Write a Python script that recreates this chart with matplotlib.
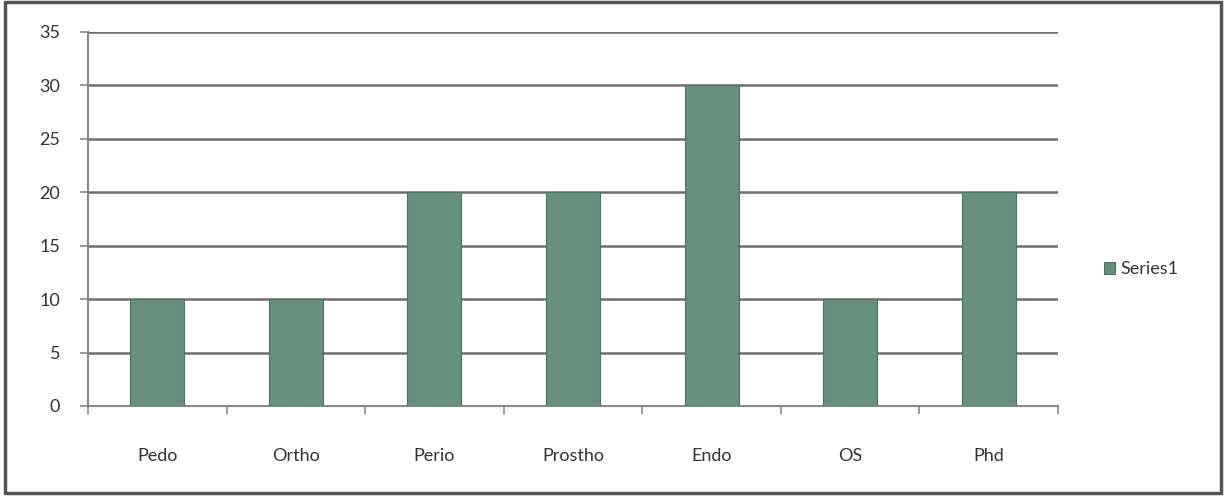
import matplotlib
matplotlib.use("Agg")
import matplotlib.pyplot as plt
from matplotlib.patches import Rectangle

# Data
categories = ["Pedo", "Ortho", "Perio", "Prostho", "Endo", "OS", "Phd"]
values = [10, 10, 20, 20, 30, 10, 20]
yticks = [0, 5, 10, 15, 20, 25, 30, 35]

plt.rcParams['font.family'] = ['Lato', 'DejaVu Sans']

fig = plt.figure(figsize=(12.26, 4.99), dpi=100)
ax = fig.add_axes([0.0718, 0.1864, 0.7912, 0.7496])

x = range(len(categories))
ax.bar(x, values, width=0.39, color='#66907d', edgecolor='#4d7463',
       linewidth=0.8, label='Series1', zorder=3)

ax.set_xlim(-0.5, len(categories) - 0.5)
ax.set_ylim(0, 35)
ax.set_yticks(yticks)
ax.set_yticklabels([str(v) for v in yticks], fontsize=13, color='#333333')
ax.yaxis.grid(True, color='#6e6e6e', linewidth=1.8, zorder=0)

# category labels in the middle, tick marks at the boundaries
ax.set_xticks(list(x))
ax.set_xticklabels(categories, fontsize=13, color='#333333')
ax.tick_params(axis='x', length=0, pad=30)
ax.set_xticks([i - 0.5 for i in range(len(categories) + 1)], minor=True)
ax.tick_params(axis='x', which='minor', length=6, color='#888888', width=1.2)
ax.tick_params(axis='y', length=6, color='#888888', width=1.2, pad=14)

for side in ['top', 'right']:
    ax.spines[side].set_visible(False)
for side in ['left', 'bottom']:
    ax.spines[side].set_color('#888888')
    ax.spines[side].set_linewidth(1.5)

leg = fig.legend(loc='center left', bbox_to_anchor=(0.887, 0.46), frameon=False,
                 fontsize=13, handlelength=0.6, handleheight=0.6, handletextpad=0.3)
for t in leg.get_texts():
    t.set_color('#333333')

# outer chart border
fig.patches.append(Rectangle((0.004, 0.012), 0.992, 0.984, transform=fig.transFigure,
                             fill=False, edgecolor='#555555', linewidth=2.5))

fig.savefig("out.png", dpi=100)
